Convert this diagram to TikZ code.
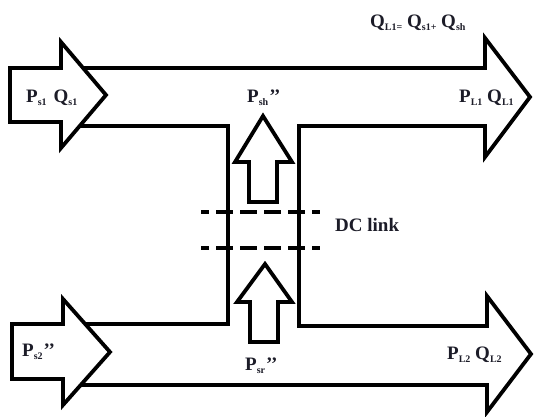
\documentclass[tikz,border=0pt]{standalone}
\usepackage{fontspec}
\setmainfont{Liberation Serif}
\definecolor{txt}{RGB}{28,28,40}
\newcommand{\sbx}[1]{\raisebox{-0.45ex}{\fontsize{10}{10}\selectfont #1}}
\tikzset{
  wire/.style={line width=3.8pt, line join=miter, line cap=butt},
  arrowbox/.style={wire, fill=white},
  dcdash/.style={line width=4pt, dash pattern=on 8pt off 7pt on 17pt off 7pt on 17pt off 7pt on 17pt off 7pt on 17pt off 7pt on 8pt},
  lbl/.style={anchor=base west, inner sep=0pt, text=txt, font=\fontsize{19}{19}\selectfont\bfseries}
}
\begin{document}
\begin{tikzpicture}[x=1pt,y=-1pt]
\useasboundingbox (0,0) rectangle (537,416);
% channel outline
\draw[wire] (80,68) -- (485,68) -- (485,38) -- (530,97) -- (485,157) -- (485,126)
  -- (299,126) -- (299,326) -- (487,326) -- (487,296) -- (531,354) -- (487,412)
  -- (487,385) -- (80,385);
\draw[wire] (80,126) -- (228,126) -- (228,324) -- (80,324);
% input arrows
\draw[arrowbox] (10,68) -- (61,68) -- (61,42) -- (106,95) -- (61,148) -- (61,122) -- (10,122) -- cycle;
\draw[arrowbox] (12,324) -- (63,324) -- (63,299) -- (110,352) -- (63,405) -- (63,379) -- (12,379) -- cycle;
% vertical arrows
\draw[arrowbox] (249,202) -- (249,162) -- (235,162) -- (263,116) -- (292,162) -- (277,162) -- (277,202) -- cycle;
\draw[arrowbox] (250,342) -- (250,302) -- (237,302) -- (265,264) -- (292,302) -- (278,302) -- (278,342) -- cycle;
% DC link dashes
\coordinate (d1a) at (201,212); \coordinate (d1b) at (322,212);
\coordinate (d2a) at (201,248); \coordinate (d2b) at (322,248);
\draw[dcdash] (d1a) -- (d1b);
\draw[dcdash] (d2a) -- (d2b);
% labels
\node[lbl] (qeq) at (370,27) {Q\sbx{L1}\sbx{=} Q\sbx{s1}\sbx{+} Q\sbx{sh}};
\node[lbl] (ps1) at (26,102) {P\sbx{s1}\hspace{7pt}Q\sbx{s1}};
\node[lbl] (psh) at (247,102) {P\sbx{sh}\hspace{1pt}’’};
\node[lbl] (pl1) at (459,102) {P\sbx{L1} Q\sbx{L1}};
\node[lbl] (dcl) at (335,231) {DC link};
\node[lbl] (ps2) at (22,356) {P\sbx{s2}\hspace{1pt}’’};
\node[lbl] (psr) at (245,370) {P\sbx{sr}\hspace{1pt}’’};
\node[lbl] (pl2) at (447,359) {P\sbx{L2} Q\sbx{L2}};
\end{tikzpicture}
\end{document}
